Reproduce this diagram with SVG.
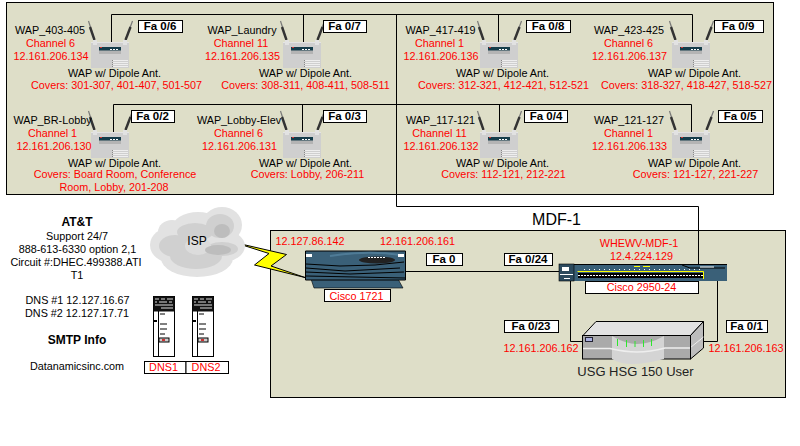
<svg xmlns="http://www.w3.org/2000/svg" xmlns:xlink="http://www.w3.org/1999/xlink" width="800" height="446" viewBox="0 0 800 446">
<style>
text{font-family:"Liberation Sans",Arial,sans-serif;font-size:10.8px;text-anchor:middle;fill:#000}
.r{fill:#f00}
.b{font-weight:bold}
.fa{font-weight:bold;font-size:11.5px}
.panel{fill:#dedec8;stroke:#000;stroke-width:1}
.box{fill:#fff;stroke:#000;stroke-width:1}
.line{fill:none;stroke:#000;stroke-width:1}
</style>
<defs>
<g id="wap-icon">
<path d="M88.5 21L94.5 40" stroke="#777" stroke-width="1.2" fill="none"/>
<path d="M90 27L94.5 40" stroke="#333" stroke-width="2.4" fill="none"/>
<path d="M132.5 21L125.5 40" stroke="#777" stroke-width="1.2" fill="none"/>
<path d="M130.5 27L125.5 40" stroke="#333" stroke-width="2.4" fill="none"/>
<rect x="91" y="42" width="38" height="26" fill="#cfcfcf"/>
<rect x="91" y="42" width="38" height="1" fill="#e4e4e4"/>
<rect x="93" y="40" width="4" height="5" fill="#e2e2e2"/>
<rect x="123" y="40" width="4" height="5" fill="#e2e2e2"/>
<rect x="99" y="47" width="22" height="7" fill="#b4b4b4"/>
<rect x="99" y="47" width="22" height="3.5" fill="#143c4a"/>
<rect x="100" y="47" width="2" height="1" fill="#c33"/>
<rect x="110" y="49" width="2" height="1" fill="#fff"/><rect x="113" y="49" width="2" height="1" fill="#fff"/><rect x="116" y="49" width="2" height="1" fill="#fff"/>
<path d="M113 60.5h15M113 62.5h15M113 64.5h15M113 66.5h15" stroke="#eee" stroke-width="1"/>
<path d="M112.5 60v7" stroke="#888" stroke-width="1" stroke-dasharray="1 1"/>
</g>
<g id="server-icon">
<rect x="0.5" y="0.5" width="21" height="60" fill="#fff" stroke="#000"/>
<rect x="0.5" y="0.5" width="21" height="15" fill="#111"/>
<path d="M2 3h4M8 3h4M14 3h6M2 6h2M6 6h8M16 6h3M2 9h18M8 12h12" stroke="#ddd" stroke-width="1"/>
<path d="M5.5 15v45" stroke="#000"/>
<rect x="1" y="24" width="3" height="2" fill="#000"/>
<path d="M7 18h5M7 28h7M7 33h7M7 38h5" stroke="#000" stroke-width="1"/>
<rect x="6" y="42" width="10" height="4" fill="#ccc" stroke="#000"/>
<rect x="9" y="43" width="3" height="2" fill="#c33"/>
</g>
</defs>
<rect width="800" height="446" fill="#fff"/>
<rect class="panel" x="6.5" y="2.5" width="767" height="192"/>
<rect class="panel" x="270.5" y="230.5" width="515" height="167"/>
<text x="556.5" y="225" style="font-size:16px">MDF-1</text>

<g id="connectors">
<path class="line" d="M111.5 42V14.5H692.5V42M303.5 14.5V42M498.5 14.5V42"/>
<path class="line" d="M113.5 132V104.5H691.5V132M302.5 104.5V132M499.5 104.5V132"/>
<path class="line" d="M396.5 14.5V206.5H698.5V264"/>
<path class="line" d="M405 271.5H560"/>
<path class="line" d="M570.5 281V341.5H583"/>
<path class="line" d="M717.5 281V341.5H702"/>
<path d="M234.5 242.5L286.5 254.5L271 266L305 277.5L254.5 265L269 253.5Z" fill="#ff0" stroke="#000" stroke-width="1"/>
</g>

<g id="wap-403-405">
<use xlink:href="#wap-icon" href="#wap-icon"/>
<text x="50" y="34">WAP_403-405</text><text class="r" x="50.5" y="47">Channel 6</text><text class="r" x="51" y="60">12.161.206.134</text>
<text x="114.5" y="77">WAP w/ Dipole Ant.</text><text class="r" x="116.5" y="89">Covers: 301-307, 401-407, 501-507</text>
<rect class="box" x="138.5" y="20.5" width="44" height="12"/><text class="fa" x="160" y="29.5">Fa 0/6</text>
</g>
<g id="wap-laundry">
<use xlink:href="#wap-icon" href="#wap-icon" x="192"/>
<text x="242" y="34">WAP_Laundry</text><text class="r" x="241" y="47">Channel 11</text><text class="r" x="242.5" y="60">12.161.206.135</text>
<text x="305.5" y="77">WAP w/ Dipole Ant.</text><text class="r" x="305.5" y="89">Covers: 308-311, 408-411, 508-511</text>
<rect class="box" x="323.5" y="20.5" width="43" height="12"/><text class="fa" x="344.5" y="29.5">Fa 0/7</text>
</g>
<g id="wap-417-419">
<use xlink:href="#wap-icon" href="#wap-icon" x="389"/>
<text x="440.5" y="34">WAP_417-419</text><text class="r" x="439.5" y="47">Channel 1</text><text class="r" x="441" y="60">12.161.206.136</text>
<text x="502.5" y="77">WAP w/ Dipole Ant.</text><text class="r" x="503.5" y="89">Covers: 312-321, 412-421, 512-521</text>
<rect class="box" x="526.5" y="20.5" width="44" height="12"/><text class="fa" x="548" y="29.5">Fa 0/8</text>
</g>
<g id="wap-423-425">
<use xlink:href="#wap-icon" href="#wap-icon" x="581"/>
<text x="629" y="34">WAP_423-425</text><text class="r" x="628.5" y="47">Channel 6</text><text class="r" x="629.5" y="60">12.161.206.137</text>
<text x="694.5" y="77">WAP w/ Dipole Ant.</text><text class="r" x="686.5" y="89">Covers: 318-327, 418-427, 518-527</text>
<rect class="box" x="714.5" y="20.5" width="49" height="12"/><text class="fa" x="738" y="29.5">Fa 0/9</text>
</g>
<g id="wap-br-lobby">
<use xlink:href="#wap-icon" href="#wap-icon" y="90"/>
<text x="52.5" y="124">WAP_BR-Lobby</text><text class="r" x="52.5" y="137">Channel 1</text><text class="r" x="54" y="150">12.161.206.130</text>
<text x="114.5" y="167">WAP w/ Dipole Ant.</text><text class="r" x="115" y="178">Covers: Board Room, Conference</text><text class="r" x="114" y="191">Room, Lobby, 201-208</text>
<rect class="box" x="131.5" y="110.5" width="43" height="12"/><text class="fa" x="152.5" y="119.5">Fa 0/2</text>
</g>
<g id="wap-lobby-elev">
<use xlink:href="#wap-icon" href="#wap-icon" x="192" y="90"/>
<text x="239" y="124">WAP_Lobby-Elev</text><text class="r" x="238.5" y="137">Channel 6</text><text class="r" x="239.5" y="150">12.161.206.131</text>
<text x="305.5" y="167">WAP w/ Dipole Ant.</text><text class="r" x="307.5" y="178">Covers: Lobby, 206-211</text>
<rect class="box" x="323.5" y="110.5" width="43" height="12"/><text class="fa" x="344.5" y="119.5">Fa 0/3</text>
</g>
<g id="wap-117-121">
<use xlink:href="#wap-icon" href="#wap-icon" x="389" y="90"/>
<text x="440.5" y="124">WAP_117-121</text><text class="r" x="439.5" y="137">Channel 11</text><text class="r" x="441" y="150">12.161.206.132</text>
<text x="502.5" y="167">WAP w/ Dipole Ant.</text><text class="r" x="503.5" y="178">Covers: 112-121, 212-221</text>
<rect class="box" x="524.5" y="110.5" width="43" height="12"/><text class="fa" x="546" y="119.5">Fa 0/4</text>
</g>
<g id="wap-121-127">
<use xlink:href="#wap-icon" href="#wap-icon" x="581" y="90"/>
<text x="629" y="124">WAP_121-127</text><text class="r" x="628.5" y="137">Channel 1</text><text class="r" x="629.5" y="150">12.161.206.133</text>
<text x="694.5" y="167">WAP w/ Dipole Ant.</text><text class="r" x="695.5" y="178">Covers: 121-127, 221-227</text>
<rect class="box" x="718.5" y="110.5" width="44" height="12"/><text class="fa" x="740" y="119.5">Fa 0/5</text>
</g>

<g id="att-info">
<text class="b" x="77" y="226" style="font-size:12px">AT&amp;T</text>
<text x="77" y="240">Support 24/7</text>
<text x="77.5" y="253">888-613-6330 option 2,1</text>
<text x="76" y="266">Circuit #:DHEC.499388.ATI</text>
<text x="77" y="279">T1</text>
<text x="77.5" y="304">DNS #1 12.127.16.67</text>
<text x="77" y="317">DNS #2 12.127.17.71</text>
<text class="b" x="77" y="344" style="font-size:12px">SMTP Info</text>
<text x="77" y="370">Datanamicsinc.com</text>
</g>

<g id="isp">
<g fill="#e2e2e2">
<ellipse cx="172" cy="245" rx="22" ry="18"/><ellipse cx="198" cy="228" rx="26" ry="16"/><ellipse cx="222" cy="225" rx="20" ry="18"/><ellipse cx="222" cy="246" rx="23" ry="16"/><ellipse cx="197" cy="258" rx="36" ry="19"/><ellipse cx="172" cy="232" rx="14" ry="12"/><ellipse cx="197" cy="243" rx="30" ry="20"/>
</g>
<g fill="#d0d0d0">
<ellipse cx="175" cy="246" rx="16" ry="11"/><ellipse cx="220" cy="226" rx="14" ry="12"/><ellipse cx="196" cy="256" rx="26" ry="13"/><ellipse cx="195" cy="232" rx="18" ry="9"/><ellipse cx="222" cy="249" rx="16" ry="7"/>
</g>
<ellipse cx="198" cy="246" rx="13" ry="9" fill="#dcdcdc"/>
<ellipse cx="218" cy="250" rx="13" ry="5" fill="#bdbdbd"/>
<ellipse cx="222" cy="231" rx="8" ry="7" fill="#bdbdbd"/>
<text x="197" y="245" style="font-size:12px">ISP</text>
</g>

<g id="dns1">
<use xlink:href="#server-icon" href="#server-icon" x="153" y="296"/>
<rect class="box" x="144.5" y="361.5" width="41.5" height="12"/>
<text class="r" x="163.5" y="371">DNS1</text>
</g>
<g id="dns2">
<use xlink:href="#server-icon" href="#server-icon" x="192" y="296"/>
<rect class="box" x="186" y="361.5" width="42.5" height="12"/>
<text class="r" x="206" y="371">DNS2</text>
</g>

<g id="cisco-1721">
<path d="M311 279L314 288H403L398 279Z" fill="#3a6078" stroke="#000" stroke-width=".6"/>
<path d="M305.5 251H405.5V280H305.5Z" fill="#3a6078" stroke="#000" stroke-width="1"/>
<path d="M306 264L340 266L375 265L404 262M306 268L345 271L400 268M306 272L350 274L404 272M306 276L405 278" fill="none" stroke="#000" stroke-width="1"/>
<path d="M330 256Q370 250 400 255" fill="none" stroke="#4f7b96" stroke-width="2"/>
<ellipse cx="377" cy="260" rx="18" ry="3.5" fill="#222"/>
<path d="M368 257.5h17" stroke="#fff" stroke-width="1" stroke-dasharray="2 1"/>
<rect x="306" y="254" width="6" height="3" fill="#fff"/><rect x="398" y="254" width="6" height="3" fill="#fff"/>
<rect class="box" x="324.5" y="289.5" width="66" height="12"/>
<text class="r" x="356.5" y="299.5">Cisco 1721</text>
<text class="r" x="310" y="245">12.127.86.142</text>
<text class="r" x="417.5" y="245">12.161.206.161</text>
<rect class="box" x="426.5" y="253.5" width="36" height="12"/><text class="fa" x="444" y="262.5">Fa 0</text>
</g>

<g id="whewv-mdf-1">
<rect x="559" y="264" width="168" height="17" fill="#3a6078"/>
<path d="M559 264.5H727" stroke="#000"/>
<rect x="559" y="264" width="15" height="17" fill="#2c4a5e" stroke="#000" stroke-width=".6"/>
<rect x="562" y="267" width="7" height="4" fill="#fff"/><path d="M560 274.5h13M564 278.5h6" stroke="#fff" stroke-width="1"/>
<rect x="578" y="273" width="125" height="5" fill="#000"/>
<path d="M578 275.5H703" stroke="#fff" stroke-dasharray="2 1" stroke-width="1"/>
<path d="M577.5 271.5H703.5V279" fill="none" stroke="#ff0" stroke-width="1"/>
<path d="M584 269.5H700" stroke="#fff" stroke-dasharray="1 4" stroke-width="1"/>
<path d="M634 266.5h6M643 266.5h7" stroke="#ff0" stroke-width="1"/>
<path d="M682 265L690 268H725" fill="none" stroke="#000" stroke-width="1"/>
<path d="M700 267h14" stroke="#fff" stroke-width="1"/>
<rect class="box" x="585.5" y="281.5" width="113" height="12"/>
<text class="r" x="641.5" y="290.5">Cisco 2950-24</text>
<text class="r" x="639" y="247">WHEWV-MDF-1</text>
<text class="r" x="641.5" y="259.5">12.4.224.129</text>
<rect class="box" x="504.5" y="253.5" width="48" height="12"/><text class="fa" x="528" y="262.5">Fa 0/24</text>
</g>

<g id="usg-hsg-150">
<path d="M596 321.5H703.5L690.5 335.5H583Z" fill="#e2e2e2" stroke="#000"/>
<path d="M703.5 321.5V348L690.5 359V335.5Z" fill="#bdbdbd" stroke="#000"/>
<path d="M690.5 347.5L703.5 337" stroke="#eee" fill="none"/>
<rect x="582.5" y="335.5" width="108" height="23.5" fill="#aaa" stroke="#000"/>
<path d="M612 336Q626 344 637 344Q650 344 664 336V359Q645 364 632 364Q620 364 612 359Z" fill="#d4d4d4"/>
<path d="M583 348.5H610Q625 352 637 352Q650 352 665 348H690" fill="none" stroke="#eee" stroke-width="1.5"/>
<rect x="585.5" y="337.5" width="7" height="4" fill="#aab0e0" stroke="#223"/>
<path d="M617.5 339v7M626.5 340v7M635 341v6M643.5 340v7M651.5 339v7" stroke="#2ee62e" stroke-width="1"/>
<text x="635.5" y="376" style="font-size:13px;fill:#222">USG HSG 150 User</text>
<text class="r" x="541" y="352">12.161.206.162</text>
<text class="r" x="746" y="352">12.161.206.163</text>
<rect class="box" x="504.5" y="320.5" width="54" height="12"/><text class="fa" x="531" y="329.5">Fa 0/23</text>
<rect class="box" x="726.5" y="320.5" width="41" height="12"/><text class="fa" x="746.5" y="329.5">Fa 0/1</text>
</g>
</svg>
